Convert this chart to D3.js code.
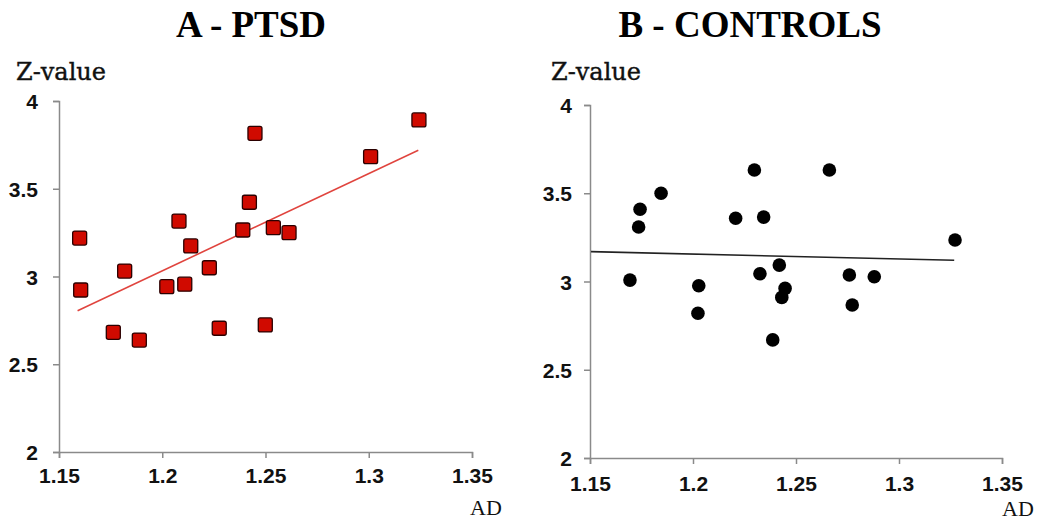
<!DOCTYPE html>
<html><head><meta charset="utf-8">
<script src="https://cdn.jsdelivr.net/npm/d3@7"></script>
<style>body{margin:0;background:#fff} svg{display:block}</style>
</head><body><svg id="c" width="1038" height="520"></svg>
<script>
// ---- data ----
const ptsdAD = [1.160, 1.1605, 1.1818, 1.1763, 1.1889, 1.2081, 1.2138, 1.2228, 1.2022, 1.2109, 1.2276, 1.2499, 1.2390, 1.2422, 1.2449, 1.2538, 1.2614, 1.3009, 1.3243];
const ptsdZ  = [3.219, 2.923, 3.031, 2.682, 2.638, 3.316, 3.174, 3.050, 2.942, 2.956, 2.705, 2.724, 3.265, 3.423, 3.816, 3.278, 3.250, 3.683, 3.892];
const ptsdTrendAD = [1.159, 1.324];
const ptsdTrendZ  = [2.805, 3.719];

const ctrlAD = [1.1694, 1.1743, 1.1736, 1.1845, 1.2028, 1.2207, 1.2298, 1.2343, 1.2325, 1.2024, 1.2387, 1.2773, 1.2419, 1.2447, 1.2431, 1.2662, 1.2759, 1.2880, 1.3272];
const ctrlZ  = [3.008, 3.409, 3.309, 3.500, 2.976, 3.358, 3.632, 3.365, 3.044, 2.820, 2.669, 2.867, 3.093, 2.961, 2.910, 3.632, 3.037, 3.027, 3.235];
const ctrlTrendAD = [1.1505, 1.3268];
const ctrlTrendZ  = [3.169, 3.120];

const xTicks = [1.15, 1.2, 1.25, 1.3, 1.35];
const xTickLabels = ["1.15", "1.2", "1.25", "1.3", "1.35"];
const yTicks = [2, 2.5, 3, 3.5, 4];
const yTickLabels = ["2", "2.5", "3", "3.5", "4"];
const titles = ["A - PTSD", "B - CONTROLS"];
const yTitle = "Z-value";
const xTitle = "AD";

// ---- layout ----
const panels = [
  {title: titles[0], ad: ptsdAD, z: ptsdZ, tAD: ptsdTrendAD, tZ: ptsdTrendZ,
   x0: 59, x1: 472, y0: 452, y1: 101, titleX: 251, zX: 16, adX: 470, adY: 515,
   yLabOff: 21, xLabOff: 16, marker: "square", lineColor: "#e0443e"},
  {title: titles[1], ad: ctrlAD, z: ctrlZ, tAD: ctrlTrendAD, tZ: ctrlTrendZ,
   x0: 590, x1: 1002, y0: 458, y1: 105, titleX: 750, zX: 551, adX: 1002, adY: 516,
   yLabOff: 18, xLabOff: 18.5, marker: "circle", lineColor: "#222"}
];

const svg = d3.select("#c");
const axisColor = "#8a8a8a";

panels.forEach(p => {
  const x = d3.scaleLinear().domain([xTicks[0], xTicks[xTicks.length-1]]).range([p.x0, p.x1]);
  const y = d3.scaleLinear().domain([yTicks[0], yTicks[yTicks.length-1]]).range([p.y0, p.y1]);
  const g = svg.append("g");

  // title
  g.append("text").attr("x", p.titleX).attr("y", 37).attr("text-anchor", "middle")
    .attr("font-family", "Liberation Serif, Times New Roman, serif").attr("font-weight", "bold")
    .attr("font-size", 37).attr("fill", "#000").text(p.title);
  // y title
  g.append("text").attr("x", p.zX).attr("y", 80)
    .attr("font-family", "DejaVu Serif, serif").attr("font-size", 24).attr("fill", "#111")
    .attr("stroke", "#111").attr("stroke-width", 0.4).text(yTitle);
  // x title
  g.append("text").attr("x", p.adX).attr("y", p.adY)
    .attr("font-family", "Liberation Serif, Times New Roman, serif").attr("font-size", 22).attr("fill", "#111").text(xTitle);

  // axes
  const yAxis = d3.axisLeft(y).tickValues(yTicks).tickSize(6).tickSizeOuter(6)
    .tickFormat((d, i) => yTickLabels[i]);
  const gy = g.append("g").attr("transform", `translate(${p.x0},0)`).call(yAxis);
  const xAxis = d3.axisBottom(x).tickValues(xTicks).tickSize(6).tickSizeOuter(6)
    .tickFormat((d, i) => xTickLabels[i]);
  const gx = g.append("g").attr("transform", `translate(0,${p.y0})`).call(xAxis);

  [gy, gx].forEach(a => {
    a.select(".domain").attr("stroke", axisColor).attr("stroke-width", 1.5);
    a.selectAll(".tick line").attr("stroke", axisColor).attr("stroke-width", 1.5);
    a.selectAll(".tick text").attr("font-family", "Liberation Sans, Arial, sans-serif")
      .attr("font-weight", "bold").attr("font-size", 21).attr("fill", "#111");
  });
  gy.selectAll(".tick text").attr("x", -p.yLabOff).attr("dy", "0.36em");
  gx.selectAll(".tick text").attr("y", p.xLabOff).attr("dy", "0.71em");

  // trend line
  g.append("line")
    .attr("x1", x(p.tAD[0])).attr("y1", y(p.tZ[0]))
    .attr("x2", x(p.tAD[1])).attr("y2", y(p.tZ[1]))
    .attr("stroke", p.lineColor).attr("stroke-width", 1.6);

  // points
  const pts = p.ad.map((v, i) => ({ad: v, z: p.z[i]}));
  if (p.marker === "square") {
    const s = 14;
    g.selectAll("rect.pt").data(pts).join("rect").attr("class", "pt")
      .attr("x", d => x(d.ad) - s/2).attr("y", d => y(d.z) - s/2)
      .attr("width", s).attr("height", s).attr("rx", 2)
      .attr("fill", "#d00a00").attr("stroke", "#2b0000").attr("stroke-width", 1.3);
  } else {
    g.selectAll("circle.pt").data(pts).join("circle").attr("class", "pt")
      .attr("cx", d => x(d.ad)).attr("cy", d => y(d.z)).attr("r", 6.8)
      .attr("fill", "#000");
  }
});
</script>
</body></html>
